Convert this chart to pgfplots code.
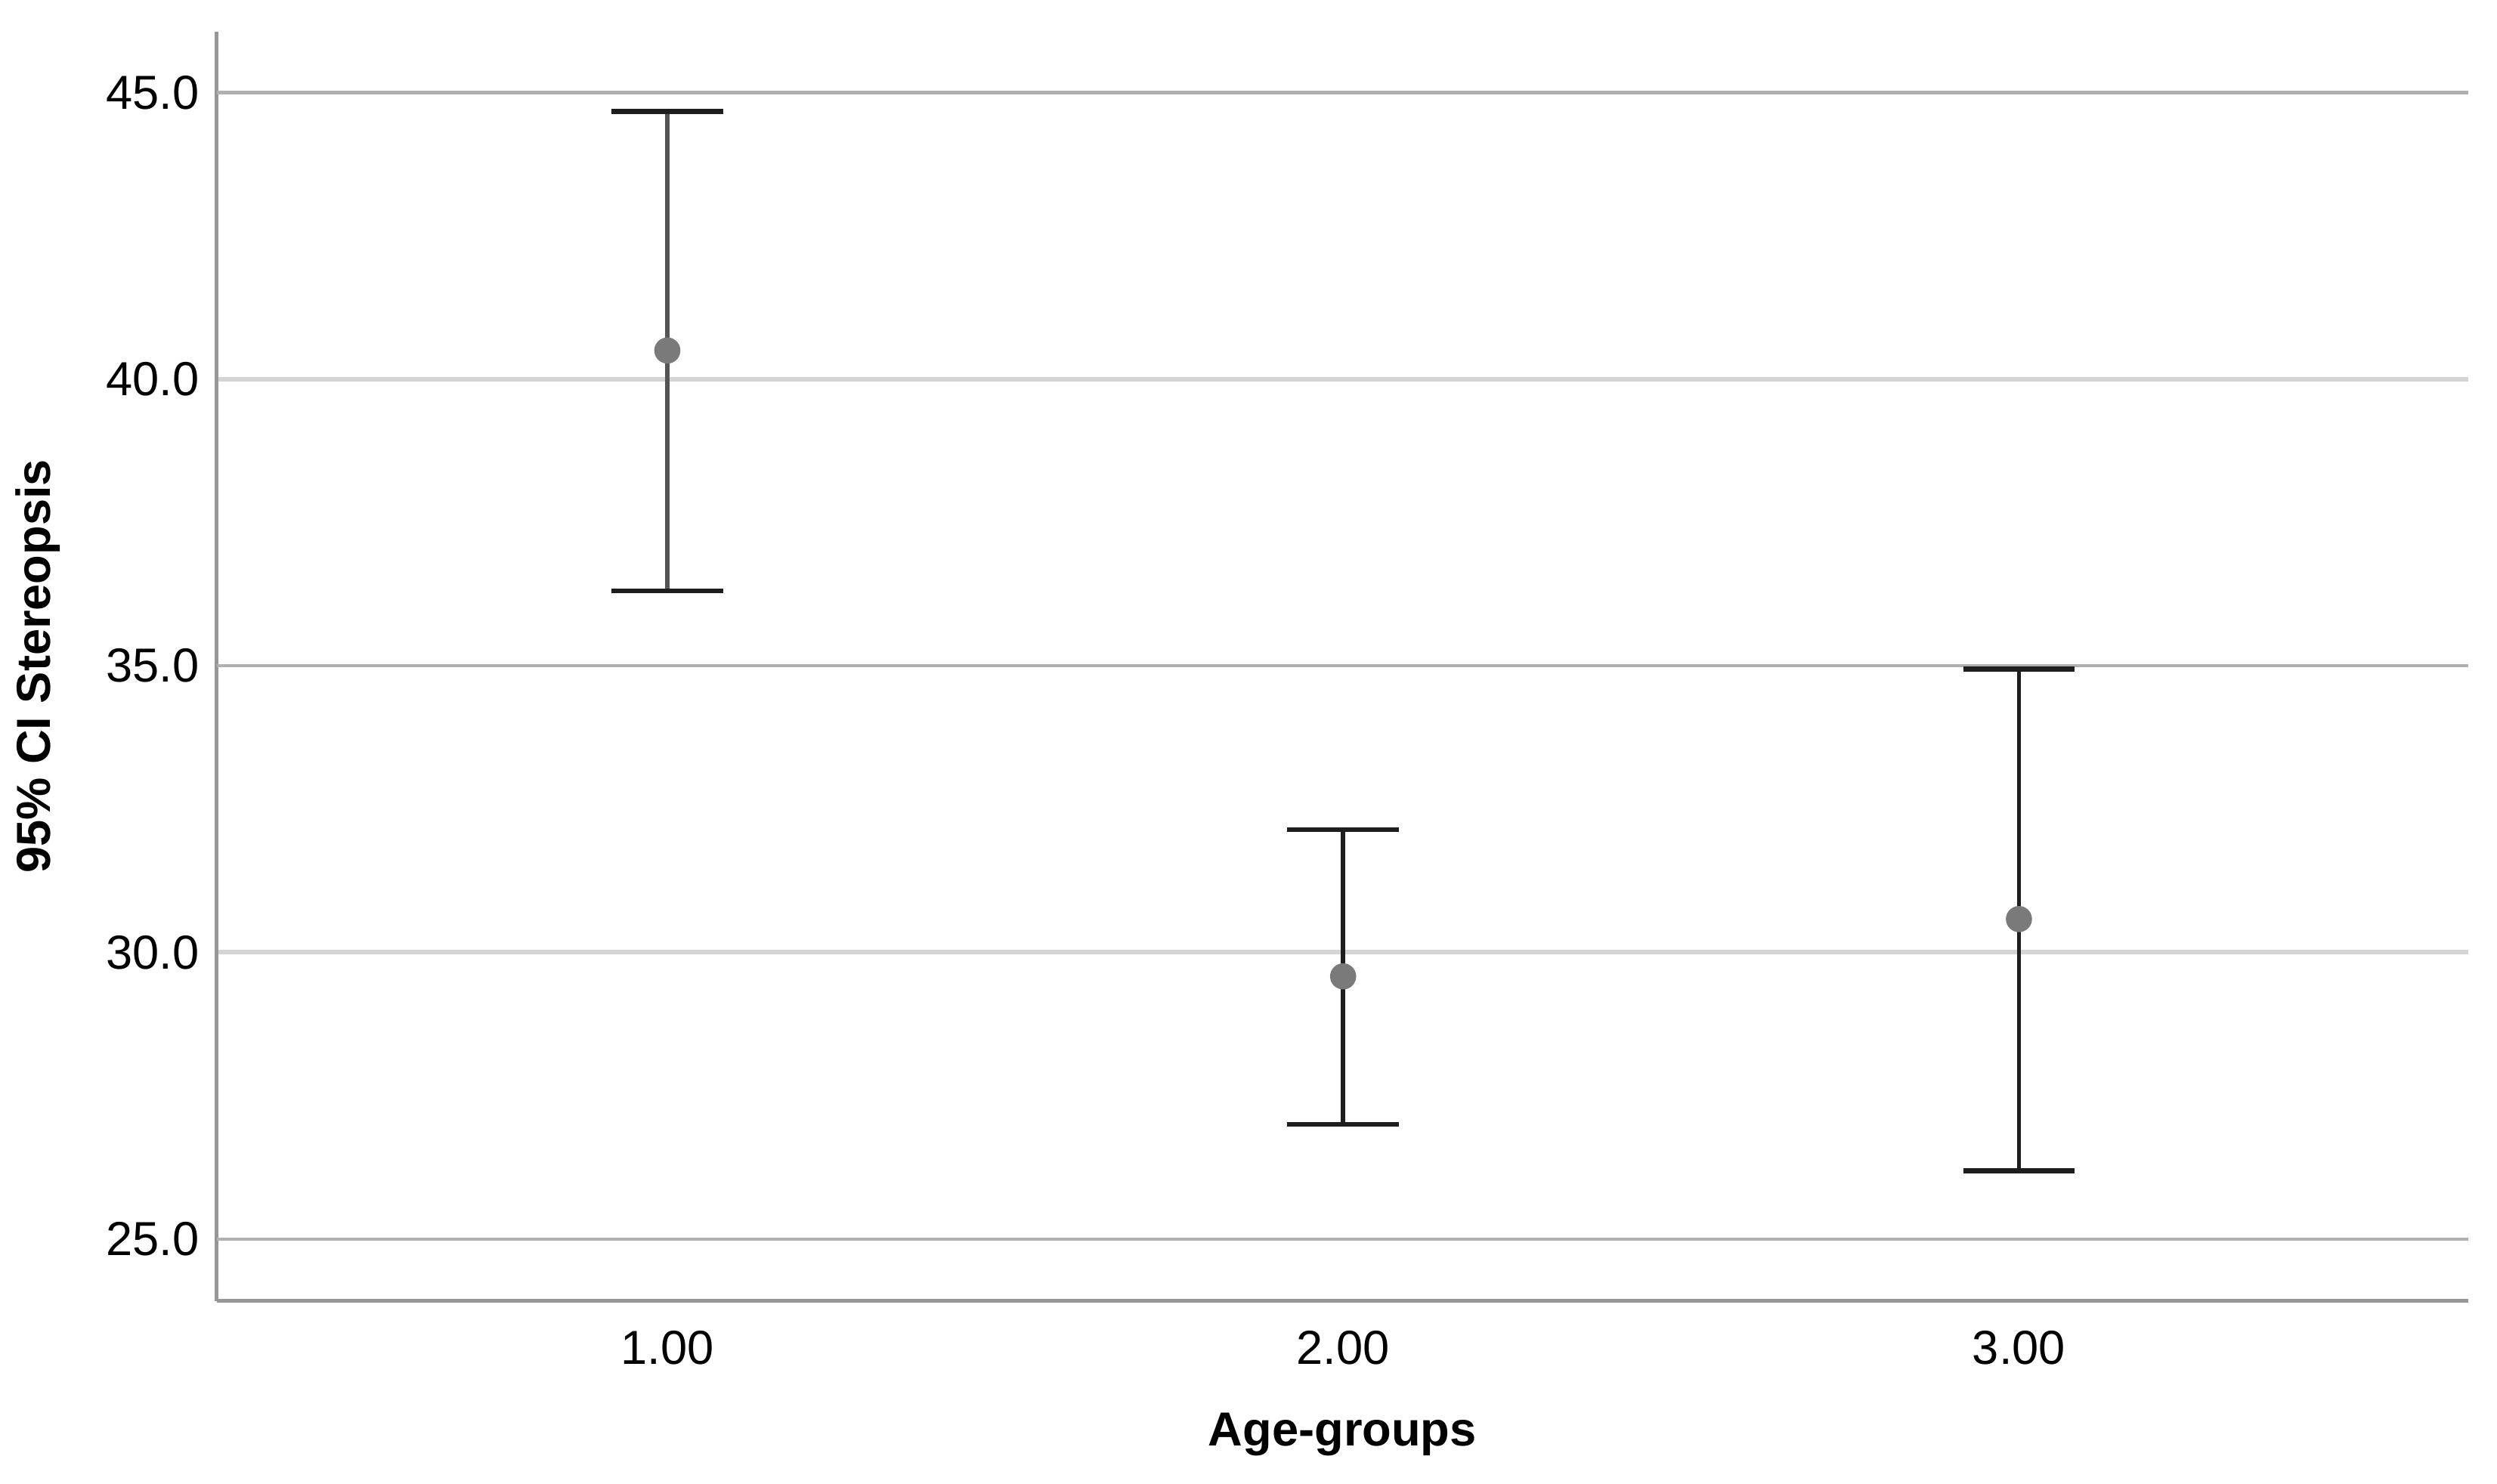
\documentclass[border=0pt]{standalone}
\usepackage{fontspec}
\setmainfont{Liberation Sans}
\usepackage{pgfplots}
\pgfplotsset{compat=1.18}
\usetikzlibrary{calc}
\definecolor{gridlight}{RGB}{212,212,212}
\definecolor{griddark}{RGB}{176,176,176}
\definecolor{axisgray}{RGB}{150,150,150}
\definecolor{meangray}{RGB}{122,122,122}
\definecolor{barblack}{RGB}{30,30,30}
\definecolor{bargray}{RGB}{85,85,85}

\begin{document}
\begin{tikzpicture}
    \begin{axis}[
            name = ax,
            scale only axis,
            width = 707pt, height = 398.5pt,
            xmin = 0.333, xmax = 3.665,
            ymin = 23.92, ymax = 46.06,
            axis x line* = bottom, axis y line* = left,
            axis line style = {draw=axisgray, line width=1.1pt},
            xtick = {1,2,3},
            ytick = {30,40},
            major tick length = 0pt,
            ymajorgrids = true,
            major grid style = {gridlight, line width=1.4pt},
            extra y ticks = {25,35,45},
            extra y tick style = {major grid style={griddark, line width=1pt}},
            /pgf/number format/assume math mode = true,
            tick label style = {font=\fontsize{15}{18}\selectfont, text=black},
            xticklabel style = {/pgf/number format/.cd, fixed, fixed zerofill, precision=2},
            yticklabel style = {/pgf/number format/.cd, fixed, fixed zerofill, precision=1},
            xticklabel shift = 6pt,
            yticklabel shift = 2pt,
            xlabel = {Age-groups},
            ylabel = {95\% CI Stereopsis},
            every axis x label/.style = {at={(axis description cs:0.5,0)}, yshift=-42pt, anchor=center,
                font=\fontsize{15}{18}\selectfont\bfseries},
            every axis y label/.style = {at={(axis description cs:0,0.5)}, xshift=-56pt, rotate=90, anchor=center,
                font=\fontsize{15}{18}\selectfont\bfseries},
            clip = false,
        ]
        %% CI for group 1 (stem drawn a bit lighter, as in the original)
        \addplot[only marks, mark=none,
            error bars/.cd, y dir=both, y explicit,
            error bar style={draw=bargray, line width=1.3pt},
            error mark options={draw=barblack, line width=1.5pt, mark size=17.5pt, rotate=90}]
            coordinates {
                (1, 40.5) += (0, 4.17) -= (0, 4.19)
            };
        %% CI for groups 2 and 3
        \addplot[only marks, mark=none,
            error bars/.cd, y dir=both, y explicit,
            error bar style={draw=barblack, line width=1.3pt},
            error mark options={draw=barblack, line width=1.5pt, mark size=17.5pt, rotate=90}]
            coordinates {
                (2, 29.58) += (0, 2.56) -= (0, 2.58)
                (3, 30.58) += (0, 4.36) -= (0, 4.39)
            };
        %% means
        \addplot[only marks, mark=*, mark size=3.9pt, color=meangray] coordinates {
                (1, 40.5)
                (2, 29.58)
                (3, 30.58)
            };
    \end{axis}
    \path ($(ax.south west)+(-68pt,-57.5pt)$) rectangle ($(ax.north east)+(9pt,10pt)$);
\end{tikzpicture}
\end{document}
